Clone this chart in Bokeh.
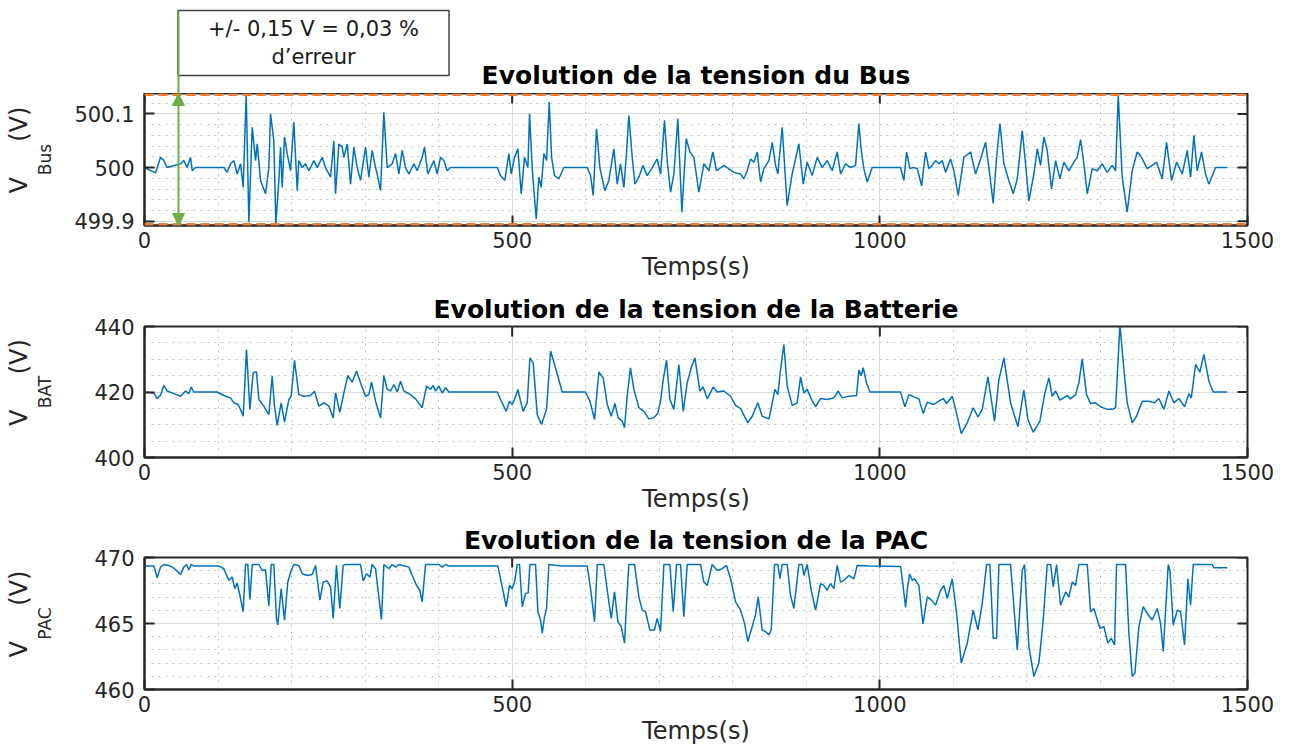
import math
from bokeh.plotting import figure
from bokeh.layouts import column
from bokeh.models import Range1d, FixedTicker, Label, Span, Arrow, NormalHead, Title
from bokeh.embed import file_html
from bokeh.resources import INLINE

# ---------------- data ----------------
t_bus = [0, 15, 21.8, 26.3, 30.9, 49, 53.5, 58, 62.6, 64.9, 69.4, 107.9, 112.4, 117, 121.5, 126, 130.6, 134.2,
         138.3, 141.9, 146.5, 151, 153.3, 157.8, 164.6, 169.1, 171.4, 175.9, 178.6, 182.7, 185, 187.3, 190.4,
         194.1, 198.6, 203.1, 207.7, 209.9, 214.5, 219, 223.5, 230.3, 234.9, 241.6, 246.2, 253, 257.5, 259.8,
         264.3, 268.8, 271.1, 275.7, 280.2, 284.7, 289.2, 293.8, 300.6, 305.1, 309.6, 314.2, 316.4, 321, 325.5,
         330, 336.8, 341.4, 345.9, 350.4, 355, 359.5, 366.3, 370.8, 377.6, 380.8, 385.3, 393.5, 398, 402.6,
         407.1, 411.6, 416.2, 479.7, 484.2, 490, 495.5, 498.7, 503.2, 507.8, 512.3, 516.8, 521.4, 523.6, 527.3,
         532.7, 536.3, 539.5, 543.1, 546.8, 550.4, 553.6, 557.6, 563.5, 570.3, 602.1, 606.6, 610.2, 614.7,
         619.3, 626, 631.5, 638.3, 642.9, 647.4, 651.9, 655.1, 658.7, 663.3, 666.9, 672.3, 677.8, 683.6, 690.4,
         697.2, 701.8, 707.2, 710.8, 715.4, 719.9, 725.3, 730.8, 736.7, 741.7, 747.1, 753.9, 760.7, 767.5,
         772.9, 777.9, 787.9, 801.5, 810.6, 815.1, 819.6, 824.2, 828.7, 833.3, 837.8, 842.3, 849.1, 853.7,
         858.2, 861.3, 867.2, 874, 880.8, 889.9, 895.8, 901.2, 908, 914.8, 921.6, 928.4, 935.2, 942, 946.6,
         953.4, 960.2, 967, 971.5, 974.7, 978.3, 982.8, 989.6, 1028.2, 1032.7, 1036.4, 1040.9, 1045.4, 1050.9,
         1056.8, 1062.2, 1066.7, 1071.3, 1075.8, 1080.3, 1084.9, 1089.4, 1096.2, 1100.7, 1106.6, 1114.3,
         1123.4, 1130.2, 1137, 1143.8, 1148.3, 1154.2, 1158.8, 1163.3, 1168.7, 1175.5, 1181.4, 1186.9, 1193.7,
         1198.2, 1202.7, 1209.5, 1214.1, 1218.6, 1223.1, 1227.6, 1233.5, 1239, 1244.9, 1250.3, 1257.1, 1263.9,
         1268.5, 1273, 1277.5, 1282.1, 1288.8, 1295.6, 1302.4, 1309.2, 1316, 1320.6, 1324.2, 1329.6, 1336.4,
         1343.2, 1350, 1354.6, 1359.1, 1363.6, 1370.4, 1376.3, 1384, 1389.9, 1396.7, 1403.5, 1411.3, 1418,
         1422.6, 1427.1, 1431.6, 1437.5, 1442.9, 1447.5, 1456.6, 1472.4]
v_bus = [500.000, 499.990, 500.019, 500.013, 500.000, 500.007, 500.013, 500.000, 500.019, 499.994, 500.000,
         500.000, 499.991, 500.007, 500.013, 499.988, 500.007, 499.963, 500.138, 499.898, 500.075, 500.013,
         500.044, 499.976, 499.951, 500.000, 500.100, 500.050, 499.895, 499.976, 500.038, 499.963, 500.057,
         500.026, 499.994, 500.085, 499.957, 500.013, 500.000, 500.007, 499.994, 500.013, 500.000, 500.019,
         500.000, 499.982, 500.050, 499.951, 500.044, 500.038, 500.019, 500.044, 499.969, 500.038, 500.000,
         499.976, 500.038, 499.982, 500.032, 500.000, 499.988, 499.957, 500.103, 500.000, 500.007, 500.026,
         499.988, 500.032, 500.000, 499.988, 500.007, 499.994, 500.019, 500.038, 499.988, 500.013, 499.988,
         500.019, 500.013, 499.994, 500.000, 500.000, 499.985, 499.976, 500.026, 499.988, 500.019, 500.035,
         499.951, 500.019, 500.000, 500.100, 499.998, 499.904, 499.982, 499.963, 500.026, 500.013, 500.122,
         500.019, 499.985, 499.979, 500.000, 500.000, 499.985, 499.948, 500.072, 500.000, 499.957, 499.976,
         500.035, 499.969, 500.007, 499.963, 500.019, 500.097, 500.019, 499.969, 499.982, 500.004, 499.985,
         500.000, 500.016, 499.988, 500.088, 500.013, 499.954, 499.988, 500.091, 499.917, 500.054, 500.029,
         500.019, 499.954, 500.007, 499.994, 500.029, 499.994, 500.004, 499.991, 499.988, 499.979, 499.994,
         500.016, 500.010, 500.029, 499.973, 499.998, 500.013, 500.047, 500.004, 499.988, 500.075, 499.929,
         499.988, 500.044, 499.969, 500.010, 499.985, 500.019, 500.000, 500.013, 499.994, 500.029, 499.988,
         500.007, 500.000, 500.004, 500.082, 500.032, 499.998, 499.973, 500.000, 500.000, 499.976, 500.029,
         499.998, 500.000, 499.998, 499.966, 500.029, 499.998, 500.004, 500.013, 500.007, 500.013, 499.991,
         500.016, 499.994, 499.948, 500.019, 500.029, 499.988, 500.016, 500.047, 500.000, 499.933, 500.019,
         500.082, 500.007, 499.976, 499.951, 499.979, 500.069, 500.007, 499.938, 499.988, 500.035, 500.004,
         500.057, 500.032, 499.960, 500.013, 499.979, 500.010, 499.994, 500.010, 500.019, 500.052, 500.007,
         499.951, 499.998, 499.994, 500.007, 499.991, 500.004, 499.994, 500.135, 499.982, 499.917, 499.994,
         500.029, 500.022, 500.010, 499.998, 500.004, 500.010, 499.979, 500.047, 499.976, 500.010, 499.988,
         500.032, 499.982, 500.060, 499.994, 500.029, 499.988, 499.969, 500.000, 500.000]

t_bat = [0, 12.7, 17.3, 21.8, 26.3, 30.9, 39.9, 49, 55.8, 60.3, 63.5, 67.1, 98.9, 110.2, 117, 121.5, 127, 130.6,
         134.2, 138.7, 143.3, 147.8, 152.3, 155.5, 162.3, 169.1, 173.6, 176.8, 180.4, 185.9, 190.4, 196.3,
         199.5, 204, 209.9, 216.7, 225.8, 231.2, 237.1, 243.9, 250.7, 256.6, 259.8, 265.6, 271.1, 276.5,
         282.4, 288.3, 293.8, 300.6, 305.1, 308.7, 314.2, 321, 325.5, 330, 334.6, 339.1, 343.7, 348.2, 352.7,
         361.8, 368.6, 377.6, 383.5, 389, 392.6, 395.8, 400.3, 404.9, 409.4, 413.9, 479.7, 484.2, 491.9,
         496.4, 500.1, 503.2, 507.8, 511.4, 515, 520.5, 524.1, 528.6, 534.1, 539.9, 546.8, 552.2, 557.6,
         568.1, 599.8, 605.7, 612, 617.9, 623.8, 629.3, 634.7, 639.7, 644.2, 649.7, 652.8, 656.4, 660.9,
         665.5, 672.3, 679.1, 685.9, 692.7, 698.2, 701.8, 705.4, 709.9, 714.5, 719.9, 726.7, 732.6, 738,
         743.5, 748.5, 755.3, 759.8, 765.3, 773.4, 778.8, 787.9, 797, 803.8, 810.6, 820.5, 826.4, 834.1,
         840, 849.1, 852.7, 857.3, 861.3, 865, 869.5, 874, 880.8, 887.6, 892.2, 896.7, 901.2, 906.7, 912.6,
         919.4, 928.4, 937.5, 943.4, 948.8, 957.9, 968.3, 971.5, 974.7, 977.4, 981.9, 986.5, 1028.2, 1034.1,
         1039.5, 1046.3, 1053.1, 1059, 1064.5, 1073.5, 1080.3, 1086.2, 1090.8, 1098.5, 1103, 1110.7, 1118.9,
         1127, 1133.4, 1139.3, 1147, 1156, 1161.9, 1168.7, 1177.8, 1187.8, 1195.9, 1201.4, 1208.6, 1217.7,
         1224, 1229.9, 1234.4, 1238.9, 1244.9, 1254.9, 1259.4, 1266.2, 1270.7, 1275.2, 1281.1, 1286.6,
         1293.4, 1300.2, 1309.2, 1316, 1320.6, 1326.5, 1331.9, 1336.4, 1343.2, 1349, 1356.8, 1365.9, 1373.6,
         1379.5, 1386.3, 1393.1, 1399.9, 1406.7, 1414.4, 1420.3, 1423.5, 1429.4, 1435.3, 1440.7, 1447.5,
         1453.4, 1472.4]
v_bat = [420, 419.7, 418.0, 419.0, 422.0, 420.3, 419.5, 418.7, 420.3, 419.5, 421.5, 420, 420, 418.7, 418.2,
         416.7, 416.2, 414.7, 412.6, 433.0, 414.7, 425.9, 426.1, 417.7, 415.7, 413.1, 424.8, 415.7, 409.8,
         416.7, 410.8, 417.7, 418.7, 429.7, 419.2, 418.7, 418.9, 420.2, 415.7, 416.7, 415.7, 412.1, 419.7,
         413.8, 419.7, 425.0, 423.0, 426.4, 422.8, 418.7, 419.2, 423.0, 417.2, 412.1, 425.0, 420.8, 420.3,
         422.3, 420, 423.3, 420.3, 419.2, 417.9, 415.2, 421.8, 420.8, 422.0, 420.3, 421.8, 419.7, 421.3, 420,
         420, 417.7, 414.1, 417.2, 416.2, 417.7, 420.8, 417.2, 414.1, 416.7, 430.4, 428.9, 413.1, 410.1,
         414.7, 432.5, 428.4, 420, 420, 417.2, 411.6, 426.1, 424.3, 416.2, 412.6, 416.5, 412.1, 411.1,
         409.1, 418.7, 427.4, 420.8, 415.2, 414.1, 411.8, 412.1, 413.6, 417.2, 423.8, 429.7, 417.7, 414.7,
         428.4, 414.1, 422.8, 427.4, 430.4, 420.3, 421.5, 417.9, 421.5, 420, 420.3, 418.7, 415.9, 414.9,
         410.6, 412.6, 416.7, 412.6, 411.8, 415.5, 420.8, 419.2, 426.9, 434.5, 421.8, 415.9, 416.7, 424.6,
         419.7, 420.8, 417.9, 415.5, 418.0, 417.7, 418.2, 420.3, 418.2, 418.7, 418.9, 426.7, 425.0, 427.4,
         422.8, 420, 420, 415.5, 419.2, 418.5, 417.9, 413.4, 416.9, 416.2, 417.2, 418.0, 416.5, 418.7, 414.7,
         407.3, 410.6, 415.2, 412.4, 414.7, 424.6, 411.1, 423.8, 430.4, 416.7, 409.4, 420.6, 411.6, 407.7,
         411.1, 419.2, 424.3, 418.7, 420.3, 417.5, 418.9, 417.9, 419.2, 422.8, 430.1, 419.2, 416.5, 416.7,
         415.5, 414.7, 414.7, 415.2, 440.5, 426.9, 416.7, 410.6, 412.6, 417.2, 417.2, 416.7, 418.0, 414.7,
         420.3, 416.7, 418.0, 415.5, 419.5, 418.2, 428.4, 426.1, 431.5, 423.3, 420, 420]

t_pac = [0, 12.7, 17.3, 21.8, 26.3, 33.1, 39.9, 49, 53.5, 57.2, 60.3, 63.5, 67.1, 101.1, 107.9, 114.7, 119.2,
         122.9, 126, 129.7, 134.2, 137.4, 140.5, 143.3, 146.5, 155.5, 160, 164.6, 169.1, 172.3, 175.9, 179.5,
         181.3, 185.9, 190.4, 194.9, 199.5, 203.1, 209.9, 214.5, 221.2, 228, 232.6, 238.5, 243, 248.4, 253,
         256.6, 261.1, 265.6, 270.2, 273.4, 293.8, 297.4, 301.9, 306.5, 309.6, 314.2, 318.7, 322.3, 325.5,
         332.3, 336.8, 341.4, 345.9, 359.5, 364, 369.9, 374.4, 377.6, 382.2, 400.3, 404.9, 409.4, 413.9,
         480.6, 486.5, 491.9, 496.4, 500.1, 503.2, 506.9, 510, 513.7, 518.2, 521.8, 524.1, 531.8, 535, 538.6,
         540.9, 544, 546.8, 549.9, 568.1, 602.1, 606.6, 612, 615.7, 624.7, 629.3, 634.7, 639.2, 643.8, 648.3,
         652.8, 655.5, 658.7, 666.4, 672.3, 676.9, 681.4, 687.3, 693.6, 697.2, 701.8, 706.3, 714.5, 719,
         723.5, 729, 733.5, 738, 756.2, 760.7, 765.3, 772, 778.8, 785.6, 791.5, 797, 803.8, 810.6, 816,
         820.5, 826.4, 830.9, 834.6, 840, 844.5, 849.1, 852.3, 856.8, 861.3, 864.1, 867.2, 874, 878.5,
         883.1, 889.9, 894.4, 896.7, 901.2, 906.7, 912.6, 919.4, 923.9, 928.4, 932.9, 937.5, 942, 946.6,
         951.1, 957.9, 964.7, 969.3, 985.1, 1028.2, 1031.8, 1035, 1037.3, 1040.4, 1044.1, 1047.2, 1053.1,
         1058.6, 1064.5, 1070.4, 1075.8, 1082.6, 1087.1, 1091.7, 1098.5, 1104.4, 1110.7, 1118.9, 1127,
         1133.4, 1139.3, 1145.1, 1149.7, 1154.2, 1158.8, 1161.9, 1177.8, 1186.9, 1193.7, 1196.8, 1202.7,
         1209.5, 1216.3, 1222.2, 1227.6, 1232.2, 1235.8, 1240.3, 1245.8, 1252.6, 1257.1, 1261.7, 1266.2,
         1270.7, 1282.1, 1286.6, 1291.1, 1299.3, 1304.7, 1310.1, 1314.7, 1319.2, 1321.9, 1334.2, 1338.7,
         1343.2, 1346.9, 1352.3, 1358.2, 1363.6, 1370.4, 1377.2, 1381.8, 1385.4, 1392.2, 1394.5, 1399,
         1404.5, 1409, 1414.4, 1418.9, 1422.6, 1426.2, 1452, 1454.3, 1472.4]
v_pac = [469.35, 469.35, 468.47, 469.27, 469.47, 469.40, 469.20, 468.72, 469.27, 469.47, 469.07, 469.47,
         469.35, 469.35, 469.15, 468.27, 468.52, 467.64, 468.07, 467.14, 465.89, 469.47, 469.47, 466.82,
         469.47, 469.47, 469.02, 469.07, 466.32, 469.47, 469.47, 465.39, 464.89, 467.64, 465.26, 468.14,
         469.02, 469.47, 469.40, 468.77, 468.64, 468.72, 469.40, 466.77, 468.14, 468.22, 467.77, 465.39,
         469.40, 466.14, 469.40, 469.47, 469.47, 468.22, 468.77, 468.52, 469.47, 469.15, 467.02, 465.31,
         469.47, 469.15, 469.47, 469.27, 469.47, 469.27, 468.64, 467.90, 467.52, 466.64, 469.47, 469.47,
         469.27, 469.47, 469.35, 469.35, 467.77, 466.27, 467.89, 467.64, 468.14, 469.47, 469.47, 466.27,
         467.27, 467.32, 469.47, 469.47, 465.89, 465.26, 464.26, 465.51, 466.14, 469.47, 469.35, 469.35,
         467.64, 465.14, 469.47, 469.47, 467.52, 465.39, 467.39, 465.14, 464.76, 463.51, 466.52, 469.47,
         469.47, 467.02, 466.01, 465.89, 464.51, 464.51, 465.39, 464.39, 469.47, 469.47, 465.89, 469.47,
         469.47, 465.51, 469.47, 469.47, 468.14, 467.89, 469.47, 469.02, 469.15, 469.40, 468.39, 466.64,
         466.01, 465.01, 463.63, 464.76, 465.64, 467.02, 464.51, 464.39, 464.14, 464.51, 469.47, 469.47,
         468.39, 469.47, 469.47, 467.14, 466.14, 469.47, 469.47, 468.64, 469.47, 467.52, 466.01, 468.02,
         467.89, 467.52, 468.02, 467.64, 469.40, 468.14, 468.27, 468.64, 468.39, 469.40, 469.35, 469.32,
         467.77, 466.21, 467.52, 468.77, 468.27, 468.39, 467.89, 464.96, 467.02, 466.77, 466.39, 467.52,
         467.89, 466.89, 468.39, 465.76, 462.00, 463.51, 466.01, 464.51, 466.52, 469.47, 469.47, 463.88,
         463.88, 469.47, 469.47, 463.00, 469.02, 469.47, 463.26, 461.00, 462.00, 465.26, 469.47, 469.47,
         467.77, 469.47, 466.39, 467.39, 467.02, 468.14, 467.89, 469.47, 469.47, 465.89, 466.14, 464.64,
         464.76, 463.51, 463.88, 463.38, 469.47, 469.47, 464.26, 461.00, 461.25, 464.76, 466.27, 465.76,
         465.26, 466.14, 465.01, 462.88, 469.47, 469.02, 464.89, 466.01, 465.89, 463.38, 468.39, 466.39,
         469.47, 469.47, 469.22, 469.22]

x_ticks = [0, 500, 1000, 1500]
x_tick_labels = ["0", "500", "1000", "1500"]

bus_ticks = [499.9, 500.0, 500.1]
bus_tick_labels = ["499.9", "500", "500.1"]
bat_ticks = [400, 420, 440]
bat_tick_labels = ["400", "420", "440"]
pac_ticks = [460, 465, 470]
pac_tick_labels = ["460", "465", "470"]

bus_band = [499.892, 500.138]          # orange dashed limits (+/- error band)
note_text = "+/- 0,15 V = 0,03 %\nd\u2019erreur"

titles = ["Evolution de la tension du Bus",
          "Evolution de la tension de la Batterie",
          "Evolution de la tension de la PAC"]
subs = ["Bus", "BAT", "PAC"]

# ---------------- style / layout ----------------
FONT = "DejaVu Sans"
BLUE = "#0072BD"
ORANGE = "#ED7D31"
GREEN = "#70AD47"
AXC = "#262626"
W = 1282
LEFT, RIGHT = 144, 35
FRAME_W = W - LEFT - RIGHT
V_GAP = "V" + "\u00a0" * 4 + "\u2009" + "(V)"
TITLE_SIZE = "25px"


def make_fig(height, b_top, b_bottom, frame_h, yrange, yticks, ylabels, yminor, title, title_standoff,
             sub, label_standoff):
    p = figure(width=W, height=height, x_range=Range1d(0, 1500), y_range=Range1d(*yrange),
               output_backend="svg", toolbar_location=None,
               min_border_left=LEFT, min_border_right=RIGHT, min_border_top=b_top, min_border_bottom=b_bottom,
               x_axis_label="Temps(s)", y_axis_label=sub)
    p.background_fill_color = "white"
    p.border_fill_color = "white"
    p.outline_line_color = AXC
    p.outline_line_width = 2
    if title:
        p.title.text = title
        p.title.align = "center"
        p.title.text_font = FONT
        p.title.text_font_size = TITLE_SIZE
        p.title.text_font_style = "bold"
        p.title.text_color = "black"
        p.title.standoff = title_standoff
    else:
        p.title = None

    x_minor = [v for v in range(100, 1500, 100) if v % 500 != 0]
    p.xaxis.ticker = FixedTicker(ticks=x_ticks, minor_ticks=x_minor)
    p.xaxis.major_label_overrides = dict(zip(x_ticks, x_tick_labels))
    p.yaxis.ticker = FixedTicker(ticks=yticks, minor_ticks=yminor)
    p.yaxis.major_label_overrides = dict(zip(yticks, ylabels))
    for ax in (p.xaxis, p.yaxis):
        ax.major_tick_in = 10
        ax.major_tick_out = 0
        ax.minor_tick_in = 0
        ax.minor_tick_out = 0
        ax.axis_line_color = AXC
        ax.axis_line_width = 2
        ax.major_tick_line_color = AXC
        ax.major_tick_line_width = 2
        ax.major_label_text_font = FONT
        ax.major_label_text_font_size = "21px"
        ax.major_label_text_color = AXC
        ax.axis_label_text_font = FONT
        ax.axis_label_text_font_style = "normal"
        ax.axis_label_text_color = AXC
    p.xaxis.major_label_standoff = 6
    p.yaxis.major_label_standoff = 10
    p.xaxis.axis_label_text_font_size = "24px"
    p.xaxis.axis_label_standoff = 2
    # subscript part of the y label
    p.yaxis.axis_label_text_font_size = "17px"
    p.yaxis.axis_label_standoff = label_standoff
    # main part of the y label: "V  (V)" with room for the subscript
    p.add_layout(Title(text=V_GAP, align="left", offset=frame_h / 2 - 34, standoff=0,
                       text_font=FONT, text_font_size="24px", text_font_style="normal",
                       text_color=AXC), "left")

    for g in (p.xgrid, p.ygrid):
        g.grid_line_color = "#DADADA"
        g.grid_line_width = 1
        g.minor_grid_line_color = "#BEBEBE"
        g.minor_grid_line_width = 1
        g.minor_grid_line_dash = "2 5"

    # inward ticks on the right and top edges (box on)
    dx = 10 * 1500 / FRAME_W
    dy = 10 * (yrange[1] - yrange[0]) / frame_h
    p.segment(x0=[1500 - dx] * len(yticks), y0=yticks, x1=[1500] * len(yticks), y1=yticks,
              line_color=AXC, line_width=2)
    p.segment(x0=x_ticks, y0=[yrange[1] - dy] * len(x_ticks), x1=x_ticks, y1=[yrange[1]] * len(x_ticks),
              line_color=AXC, line_width=2)
    return p


y_minor_bus = [round(499.9 + 0.02 * i, 2) for i in range(0, 13) if i % 5 != 0]
y_minor_bat = [v for v in range(400, 441, 5) if v % 20 != 0]
y_minor_pac = [v for v in range(460, 471) if v % 5 != 0]

# ----- header (note box + first title), continues the voltage scale of the first plot -----
HEAD_H = 93
px_v = (bus_band[1] - bus_band[0]) / 132
head = figure(width=W, height=HEAD_H, x_range=Range1d(0, 1500),
              y_range=Range1d(bus_band[1], bus_band[1] + HEAD_H * px_v),
              x_axis_location=None, y_axis_location=None, output_backend="svg", toolbar_location=None,
              min_border_left=LEFT, min_border_right=RIGHT, min_border_top=0, min_border_bottom=0)
head.title = None
head.outline_line_color = None
head.grid.visible = False
head.background_fill_color = "white"
head.border_fill_color = "white"

note_x = (34 + 135) * 1500 / FRAME_W
note_y = bus_band[1] + (HEAD_H - 42.5) * px_v
line_top = bus_band[1] + (HEAD_H - 10) * px_v
arrow_x = 34 * 1500 / FRAME_W

head.add_layout(Label(x=note_x, y=note_y, text=note_text, text_align="center", text_baseline="middle",
                      text_font=FONT, text_font_size="21px", text_color="#1a1a1a",
                      background_fill_color="white", border_line_color="#404040", border_line_width=1.5,
                      padding=dict(left=30, right=30, top=6, bottom=6)))
head.add_layout(Arrow(x_start=arrow_x, y_start=bus_band[1], x_end=arrow_x, y_end=line_top,
                      start=None, end=None, line_color=GREEN, line_width=2))
head.add_layout(Label(x=750, y=bus_band[1] + 18 * px_v, text=titles[0], text_align="center",
                      text_baseline="middle", text_font=FONT, text_font_size=TITLE_SIZE,
                      text_font_style="bold", text_color="black"))

# ----- plot 1 : bus voltage -----
p1 = make_fig(195, 0, 63, 132, (bus_band[0], bus_band[1]), bus_ticks, bus_tick_labels, y_minor_bus,
              None, 0, subs[0], 16)
p1.line(t_bus, v_bus, line_color=BLUE, line_width=1.5)
for loc in bus_band:
    p1.add_layout(Span(location=loc, dimension="width", line_color=ORANGE, line_width=5, line_dash="9 5"))
p1.add_layout(Arrow(x_start=arrow_x, y_start=bus_band[1], x_end=arrow_x, y_end=bus_band[0],
                    start=NormalHead(size=12, fill_color=GREEN, line_color=GREEN),
                    end=NormalHead(size=12, fill_color=GREEN, line_color=GREEN),
                    line_color=GREEN, line_width=2))

# ----- plot 2 : battery voltage -----
p2 = make_fig(232, 38, 63, 131, (400, 440), bat_ticks, bat_tick_labels, y_minor_bat, titles[1], 6,
              subs[1], 36)
p2.line(t_bat, v_bat, line_color=BLUE, line_width=1.5)

# ----- plot 3 : fuel cell voltage -----
p3 = make_fig(231, 37, 62, 132, (460, 470), pac_ticks, pac_tick_labels, y_minor_pac, titles[2], 6,
              subs[2], 36)
p3.line(t_pac, v_pac, line_color=BLUE, line_width=1.5)

layout = column(head, p1, p2, p3, spacing=0)
open("out.html", "w").write(file_html(layout, INLINE))
